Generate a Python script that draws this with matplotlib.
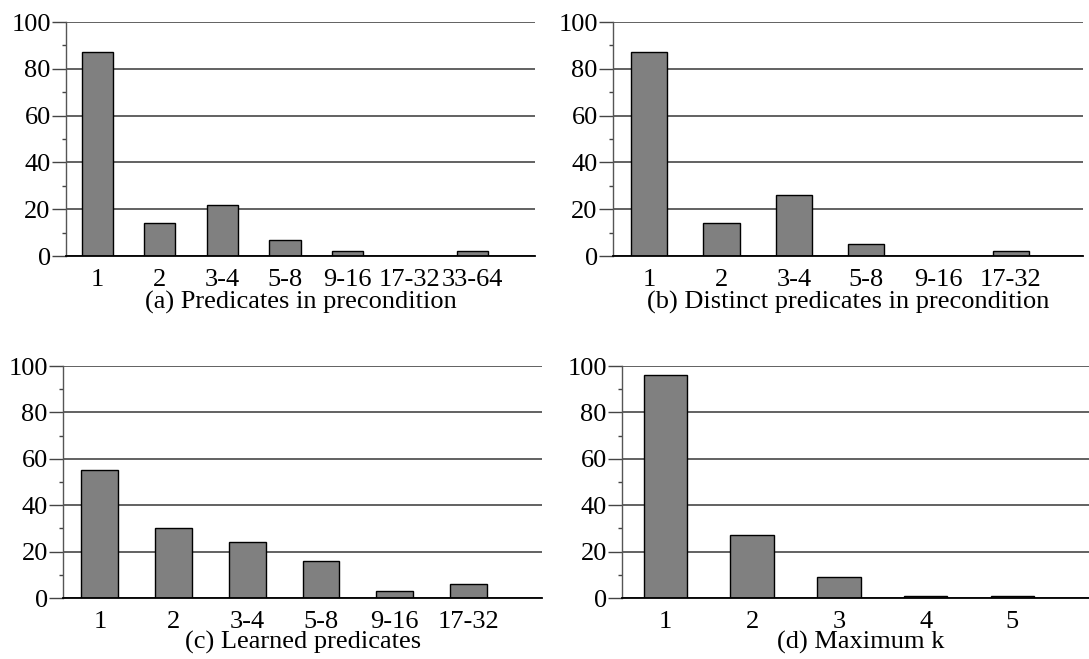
import numpy as np
import matplotlib.pyplot as plt
from matplotlib.ticker import MultipleLocator

plt.rcParams['font.family'] = ['Liberation Serif', 'DejaVu Serif']

# donnees
cats_a = ['1', '2', '3-4', '5-8', '9-16', '17-32', '33-64']
vals_a = [87, 14, 22, 7, 2, 0, 2]

cats_b = ['1', '2', '3-4', '5-8', '9-16', '17-32']
vals_b = [87, 14, 26, 5, 0, 2]

cats_c = ['1', '2', '3-4', '5-8', '9-16', '17-32']
vals_c = [55, 30, 24, 16, 3, 6]

cats_d = ['1', '2', '3', '4', '5']
vals_d = [96, 27, 9, 1, 1]

captions = ['(a) Predicates in precondition',
            '(b) Distinct predicates in precondition',
            '(c) Learned predicates',
            '(d) Maximum k']

fig = plt.figure(figsize=(10.89, 6.59), dpi=100)

# positions [left, bottom, width, height] en fraction de figure
# (ligne du bas un peu remontee pour que la legende ne sorte pas de l'image)
rects = [[0.0606, 0.6115, 0.4307, 0.3551],
         [0.5629, 0.6115, 0.4316, 0.3551],
         [0.0579, 0.0925, 0.4399, 0.3521],
         [0.5712, 0.0925, 0.4380, 0.3521]]
label_pads = [0, 0, -1.5, -1.5]

data = [(cats_a, vals_a), (cats_b, vals_b), (cats_c, vals_c), (cats_d, vals_d)]

for rect, (cats, vals), cap, lp in zip(rects, data, captions, label_pads):
    ax = fig.add_axes(rect)
    x = np.arange(len(cats))
    ax.bar(x, vals, width=0.5, color='#808080', edgecolor='black',
           linewidth=1.0, zorder=3)
    ax.set_xlim(-0.5, len(cats))
    ax.set_ylim(0, 100)
    ax.set_xticks(x)
    ax.set_xticklabels(cats, fontsize=19)
    ax.tick_params(axis='x', length=0, pad=9.5)
    ax.yaxis.set_major_locator(MultipleLocator(20))
    ax.yaxis.set_minor_locator(MultipleLocator(10))
    ax.tick_params(axis='y', which='major', length=10, width=1.0,
                   color='#444444', labelsize=19, pad=1)
    ax.tick_params(axis='y', which='minor', length=3, width=1.0,
                   color='#444444')
    ax.grid(axis='y', which='major', color='#555555', linewidth=1.3, zorder=0)
    ax.set_axisbelow(True)
    for s in ['top', 'right']:
        ax.spines[s].set_visible(False)
    ax.spines['left'].set_color('#555555')
    ax.spines['left'].set_linewidth(1.0)
    ax.spines['bottom'].set_color('black')
    ax.spines['bottom'].set_linewidth(1.3)
    ax.spines['bottom'].set_zorder(4)
    ax.set_xlabel(cap, fontsize=19, labelpad=lp)

fig.savefig('out.png', dpi=100)
